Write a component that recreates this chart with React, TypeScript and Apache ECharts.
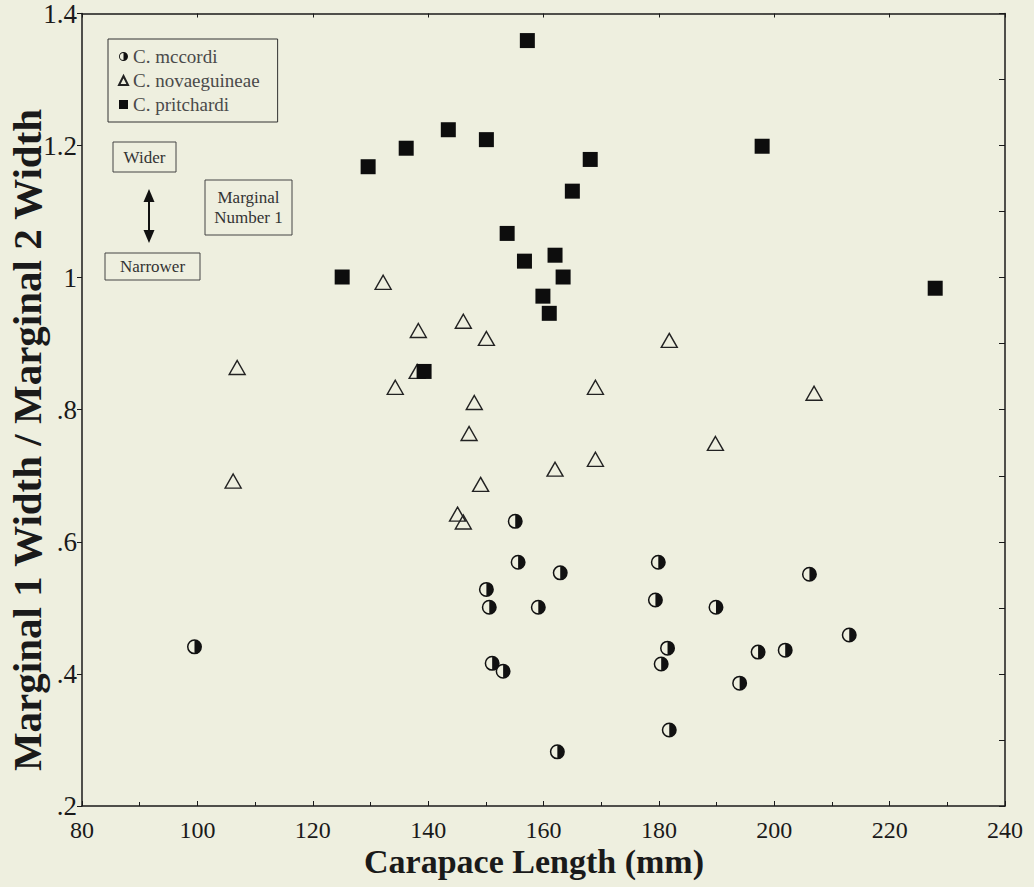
import React, { useEffect, useRef } from "react";
import * as echarts from "echarts";

const BG = "#eeefdf";
const INK = "#1a1a1a";
const SERIF = "'Liberation Serif', 'Times New Roman', serif";

// C. mccordi
const mccordiX = [99.5, 155.1, 155.6, 162.9, 150.1, 150.6, 159.1, 151.1, 153.0, 162.4, 179.9, 206.1, 179.4, 189.9, 213.0, 181.5, 180.4, 197.2, 201.9, 194.0, 181.8];
const mccordiY = [0.441, 0.631, 0.569, 0.553, 0.528, 0.501, 0.501, 0.416, 0.404, 0.282, 0.569, 0.551, 0.512, 0.501, 0.459, 0.439, 0.415, 0.433, 0.436, 0.386, 0.315];

// C. novaeguineae
const novaX = [132.2, 106.9, 106.2, 138.3, 146.1, 150.1, 138.1, 134.3, 169.0, 148.0, 147.1, 162.0, 169.0, 149.1, 145.1, 146.1, 181.8, 189.8, 206.9];
const novaY = [0.993, 0.864, 0.692, 0.920, 0.934, 0.908, 0.858, 0.834, 0.834, 0.811, 0.764, 0.710, 0.725, 0.687, 0.642, 0.630, 0.905, 0.749, 0.825];

// C. pritchardi
const pritX = [157.2, 143.5, 150.1, 136.2, 129.6, 168.1, 197.9, 165.0, 153.7, 156.7, 162.0, 163.4, 125.1, 159.9, 161.0, 227.9, 139.3];
const pritY = [1.359, 1.224, 1.209, 1.196, 1.168, 1.179, 1.199, 1.131, 1.067, 1.025, 1.034, 1.001, 1.001, 0.972, 0.946, 0.984, 0.858];

const seriesNames = ["C. mccordi", "C. novaeguineae", "C. pritchardi"];
const xTitle = "Carapace Length (mm)";
const yTitle = "Marginal 1 Width / Marginal 2 Width";

const HALF_CIRCLE =
  "path://M10 0A10 10 0 1 1 10 20A10 10 0 1 1 10 0ZM10 2A8 8 0 0 0 10 18Z";

const pairs = (xs: number[], ys: number[]) => xs.map((x, i) => [x, ys[i]]);

const yFmt = (v: number) => {
  const r = Math.round(v * 10) / 10;
  if (r === 1) return "1";
  if (r > 1) return r.toFixed(1);
  return r.toFixed(1).replace(/^0/, "");
};

export default function App() {
  const ref = useRef<HTMLDivElement>(null);
  useEffect(() => {
    document.body.style.margin = "0";
    document.body.style.background = BG;
    const chart = echarts.init(ref.current!, null, { renderer: "svg" });
    const axisLine = { show: true, lineStyle: { color: INK, width: 1.5 } };
    chart.setOption({
      animation: false,
      backgroundColor: BG,
      grid: { left: 82, right: 29, top: 13, bottom: 81 },
      legend: {
        orient: "vertical",
        left: 108,
        top: 39,
        data: seriesNames,
        borderColor: "#333",
        borderWidth: 1,
        padding: [8, 18, 8, 10],
        itemGap: 5,
        itemWidth: 9,
        itemHeight: 9,
        textStyle: { fontFamily: SERIF, fontSize: 19, color: "#4a4a4a" },
      },
      xAxis: [
        {
          type: "value",
          min: 80,
          max: 240,
          interval: 20,
          position: "bottom",
          axisLine,
          axisTick: { show: true, inside: true, length: 5, lineStyle: { color: INK } },
          minorTick: { show: true, splitNumber: 2, length: 4, lineStyle: { color: INK } },
          splitLine: { show: false },
          axisLabel: { fontFamily: SERIF, fontSize: 24, color: INK, margin: 12 },
        },
        {
          type: "value",
          min: 80,
          max: 240,
          interval: 20,
          position: "top",
          axisLine,
          axisTick: { show: true, inside: true, length: 4, lineStyle: { color: INK } },
          splitLine: { show: false },
          axisLabel: { show: false },
        },
      ],
      yAxis: [
        {
          type: "value",
          min: 0.2,
          max: 1.4,
          interval: 0.2,
          position: "left",
          axisLine,
          axisTick: { show: true, inside: false, length: 5, lineStyle: { color: INK } },
          splitLine: { show: false },
          axisLabel: { fontFamily: SERIF, fontSize: 27, color: INK, margin: 5, formatter: yFmt },
        },
        {
          type: "value",
          min: 0.2,
          max: 1.4,
          interval: 0.1,
          position: "right",
          axisLine,
          axisTick: { show: true, inside: true, length: 6, lineStyle: { color: INK } },
          splitLine: { show: false },
          axisLabel: { show: false },
        },
      ],
      series: [
        {
          name: seriesNames[0],
          type: "scatter",
          symbol: HALF_CIRCLE,
          symbolSize: 15,
          itemStyle: { color: "#111", opacity: 1 },
          data: pairs(mccordiX, mccordiY),
        },
        {
          name: seriesNames[1],
          type: "scatter",
          symbol: "triangle",
          symbolSize: [16, 14],
          itemStyle: { color: "rgba(0,0,0,0)", borderColor: "#222", borderWidth: 1.4, opacity: 1 },
          data: pairs(novaX, novaY),
        },
        {
          name: seriesNames[2],
          type: "scatter",
          symbol: "rect",
          symbolSize: 15,
          itemStyle: { color: "#0d0d0d", opacity: 1 },
          data: pairs(pritX, pritY),
        },
      ],
      graphic: [
        { type: "rect", shape: { x: 113, y: 142, width: 63, height: 30 }, style: { fill: "none", stroke: "#444", lineWidth: 1 } },
        { type: "text", x: 144.5, y: 157, style: { text: "Wider", font: `17px ${SERIF}`, fill: "#333", align: "center", verticalAlign: "middle" } },
        { type: "rect", shape: { x: 205, y: 180, width: 87, height: 55 }, style: { fill: "none", stroke: "#444", lineWidth: 1 } },
        { type: "text", x: 248.5, y: 207.5, style: { text: "Marginal\nNumber 1", font: `17px ${SERIF}`, lineHeight: 20, fill: "#333", align: "center", verticalAlign: "middle" } },
        { type: "rect", shape: { x: 105, y: 253, width: 95, height: 27 }, style: { fill: "none", stroke: "#444", lineWidth: 1 } },
        { type: "text", x: 152.5, y: 266.5, style: { text: "Narrower", font: `17px ${SERIF}`, fill: "#333", align: "center", verticalAlign: "middle" } },
        { type: "line", shape: { x1: 149, y1: 198, x2: 149, y2: 234 }, style: { stroke: "#111", lineWidth: 2 } },
        { type: "polygon", shape: { points: [[149, 189], [143.5, 202], [154.5, 202]] }, style: { fill: "#111" } },
        { type: "polygon", shape: { points: [[149, 243], [143.5, 230], [154.5, 230]] }, style: { fill: "#111" } },
        {
          type: "text",
          x: 27,
          y: 440,
          rotation: Math.PI / 2,
          style: { text: yTitle, font: `bold 41px ${SERIF}`, fill: INK, align: "center", verticalAlign: "middle" },
        },
        {
          type: "text",
          x: 534,
          y: 861,
          style: { text: xTitle, font: `bold 34px ${SERIF}`, fill: INK, align: "center", verticalAlign: "middle" },
        },
      ],
    });
    return () => chart.dispose();
  }, []);
  return (
    <div
      ref={ref}
      style={{ position: "absolute", left: 0, top: 0, width: 1034, height: 887, background: BG }}
    />
  );
}
